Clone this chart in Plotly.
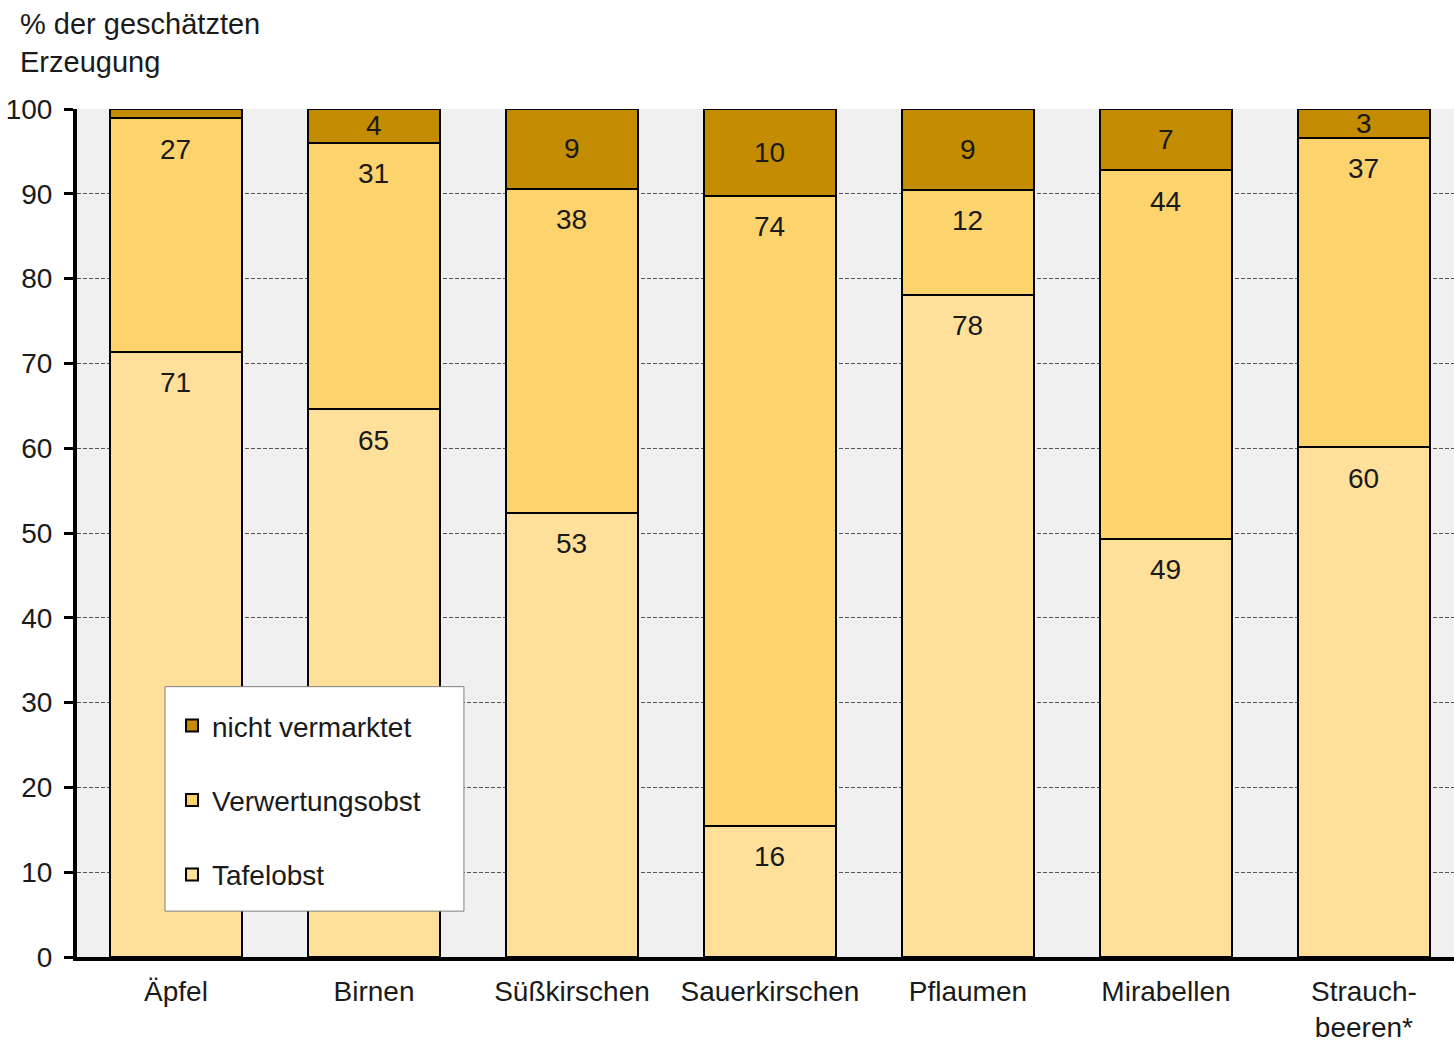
import plotly.graph_objects as go

## data
kategorien = ["Äpfel", "Birnen", "Süßkirschen", "Sauerkirschen", "Pflaumen", "Mirabellen", "Strauch-<br>beeren*"]
tafelobst = [71.4, 64.6, 52.4, 15.5, 78.1, 49.3, 60.1]
verwertungsobst = [27.5, 31.4, 38.2, 74.3, 12.4, 43.5, 36.5]
nicht_vermarktet = [1.1, 4.0, 9.4, 10.2, 9.5, 7.2, 3.4]

tafel_lbl = ["71", "65", "53", "16", "78", "49", "60"]
verw_lbl = ["27", "31", "38", "74", "12", "44", "37"]
nicht_lbl = ["", "4", "9", "10", "9", "7", "3"]

farben = {"Tafelobst": "#FFE09B", "Verwertungsobst": "#FDD36D", "nicht vermarktet": "#C48C00"}

schrift = "Liberation Sans, Arial, sans-serif"
x = list(range(len(kategorien)))

fig = go.Figure()
for rang, (name, werte) in enumerate([("Tafelobst", tafelobst), ("Verwertungsobst", verwertungsobst),
                                      ("nicht vermarktet", nicht_vermarktet)]):
    fig.add_trace(go.Bar(
        x=x, y=werte, name=name, legendgroup=name, legendrank=3 - rang,
        marker=dict(color=farben[name], line=dict(color="black", width=2)),
        width=0.67,
    ))

## value labels: lower two segments near the top, top segment centred
annos = []
for i in x:
    top1 = tafelobst[i]
    top2 = tafelobst[i] + verwertungsobst[i]
    mid3 = top2 + nicht_vermarktet[i] / 2
    for yy, txt, shift in [(top1, tafel_lbl[i], -31), (top2, verw_lbl[i], -31), (mid3, nicht_lbl[i], 0)]:
        if txt:
            annos.append(dict(x=i, y=yy, text=txt, showarrow=False, yanchor="middle",
                              yshift=shift, font=dict(size=28, color="#1a1a1a", family=schrift)))

annos.append(dict(xref="paper", yref="paper", x=-0.043, y=1.122, xanchor="left", yanchor="top",
                  align="left", showarrow=False, text="% der geschätzten<br>Erzeugung",
                  font=dict(size=29, color="#1a1a1a", family=schrift)))

# white legend box (legend itself is transparent on top of it)
fig.add_shape(type="rect", xref="paper", yref="paper", x0=0.0639, x1=0.281, y0=0.0541, y1=0.3188,
              fillcolor="white", line=dict(color="#7f7f7f", width=1), layer="above")

fig.update_layout(
    barmode="stack",
    width=1454, height=1043,
    margin=dict(l=77, r=0, t=109, b=76),
    paper_bgcolor="white", plot_bgcolor="#F0F0F0",
    font=dict(family=schrift, size=28, color="#1a1a1a"),
    annotations=annos,
    showlegend=True,
    legend=dict(x=0.069, y=0.302, xanchor="left", yanchor="top",
                bgcolor="rgba(0,0,0,0)", borderwidth=0,
                traceorder="grouped", tracegroupgap=35,
                font=dict(size=28, family=schrift, color="#1a1a1a")),
)
fig.update_xaxes(
    tickmode="array", tickvals=x, ticktext=kategorien,
    range=[-0.5, 6.455], showgrid=False,
    showline=True, linecolor="black", linewidth=4,
    ticks="", tickfont=dict(size=28), ticklabelstandoff=6,
)
fig.update_yaxes(
    range=[0, 100], tickvals=list(range(0, 101, 10)),
    showline=True, linecolor="black", linewidth=4,
    ticks="outside", ticklen=9, tickwidth=3, tickcolor="black",
    showgrid=True, gridcolor="#555555", gridwidth=1, griddash="4px,2px",
    zeroline=False, tickfont=dict(size=28), ticklabelstandoff=6,
)

fig.write_html("out.html", config={"displayModeBar": False},
               post_script="document.body.style.margin='0';document.body.style.overflow='hidden';")
